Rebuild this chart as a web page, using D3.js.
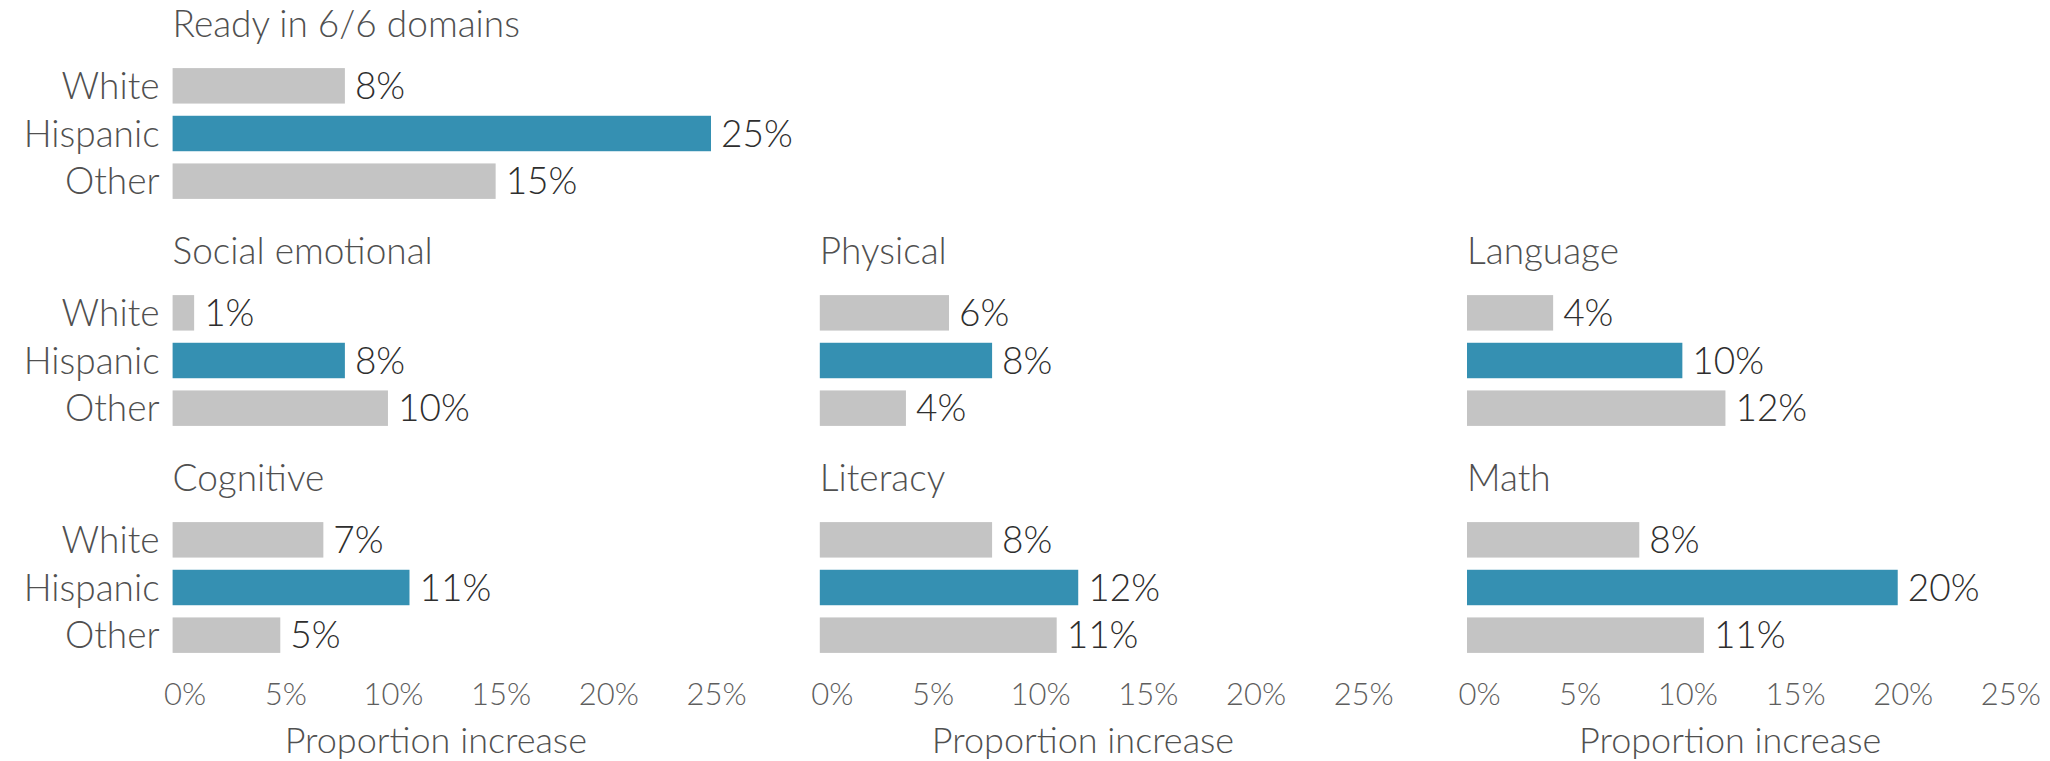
<!DOCTYPE html>
<html>
<head>
<meta charset="utf-8">
<script src="https://cdn.jsdelivr.net/npm/d3@7"></script>
<style>
  body { margin: 0; background: #fff; }
  text { font-family: Lato, "Open Sans", sans-serif; font-weight: 300; }
</style>
</head>
<body>
<main></main>
<script>
// datos
const grupos = ["White", "Hispanic", "Other"];
const dominios = ["Ready in 6/6 domains", "Social emotional", "Physical", "Language", "Cognitive", "Literacy", "Math"];
const fila = [0, 1, 1, 1, 2, 2, 2];
const columna = [0, 0, 1, 2, 0, 1, 2];
const white = [8, 1, 6, 4, 7, 8, 8];
const hispanic = [25, 8, 8, 10, 11, 12, 20];
const other = [15, 10, 4, 12, 5, 11, 11];
const ticks = [0, 5, 10, 15, 20, 25];
const tituloEje = "Proportion increase";

const w = 2050;
const h = 761;

const svg = d3.select('main')
    .append('svg')
    .attr('width', w)
    .attr('height', h);

// medidas de cada panel
const x0 = 172.6;      // inicio de la primera columna
const dxCol = 647.2;   // separación entre columnas
const anchoEje = 538.4;
const y0 = 62;         // arriba de la primera fila
const dyFila = 227;
const alto = 143;

const x = d3.scaleLinear().domain([0, 25]).range([0, anchoEje]);
const y = d3.scaleBand().domain(grupos).range([0, alto]).paddingInner(0.256).paddingOuter(0.128);

const color = { White: '#c4c4c4', Hispanic: '#3590b2', Other: '#c4c4c4' };

dominios.forEach((nombre, i) => {
    const valores = [white[i], hispanic[i], other[i]];
    const g = svg.append('g')
        .attr('transform', `translate(${x0 + columna[i] * dxCol},${y0 + fila[i] * dyFila})`);

    // título del panel
    g.append('text')
        .attr('x', 0)
        .attr('y', y('White') - 31)
        .attr('fill', '#505050')
        .style('font-size', '37px')
        .text(nombre);

    // barras
    g.selectAll('rect')
        .data(grupos)
        .enter()
        .append('rect')
        .attr('x', 0)
        .attr('y', d => y(d))
        .attr('width', (d, k) => x(valores[k]))
        .attr('height', y.bandwidth())
        .attr('fill', d => color[d]);

    // etiquetas de valor
    g.selectAll('.valor')
        .data(grupos)
        .enter()
        .append('text')
        .attr('class', 'valor')
        .attr('x', (d, k) => x(valores[k]) + 10)
        .attr('y', d => y(d) + y.bandwidth() / 2)
        .attr('dy', '0.36em')
        .attr('fill', '#2e2e2e')
        .style('font-size', '37px')
        .text((d, k) => valores[k] + '%');

    // categorías solo en la primera columna
    if (columna[i] === 0) {
        g.selectAll('.cat')
            .data(grupos)
            .enter()
            .append('text')
            .attr('class', 'cat')
            .attr('x', -13)
            .attr('y', d => y(d) + y.bandwidth() / 2)
            .attr('dy', '0.36em')
            .attr('text-anchor', 'end')
            .attr('fill', '#505050')
            .style('font-size', '37px')
            .text(d => d);
    }

    // eje en la fila de abajo
    if (fila[i] === 2) {
        const eje = g.append('g')
            .attr('transform', `translate(0,${alto + 21})`)
            .call(d3.axisBottom(x).tickValues(ticks).tickSize(0).tickFormat(d => d + '%'));
        eje.select('.domain').remove();
        eje.selectAll('text')
            .attr('dx', d => d === 0 ? 12 : 5)   // el 0% va un poco más a la derecha
            .attr('fill', '#5e5e5e')
            .style('font-size', '31px')
            .style('font-family', 'Lato, sans-serif')
            .style('font-weight', 300);

        g.append('text')
            .attr('x', anchoEje / 2 - 6)
            .attr('y', alto + 94)
            .attr('text-anchor', 'middle')
            .attr('fill', '#505050')
            .style('font-size', '36px')
            .text(tituloEje);
    }
});
</script>
</body>
</html>
